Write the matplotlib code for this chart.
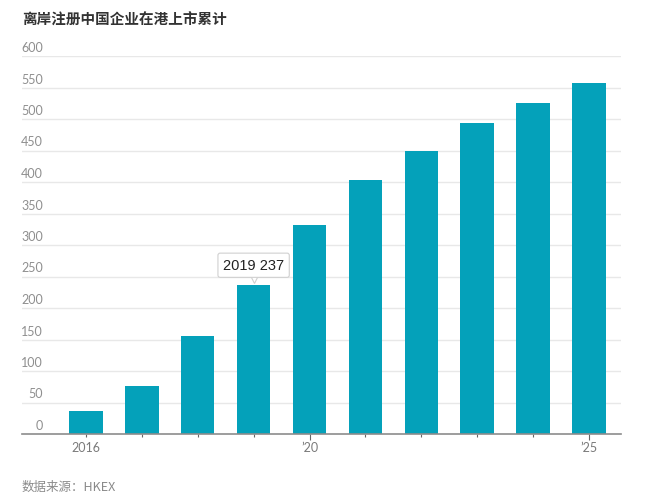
import matplotlib
matplotlib.use("Agg")
import matplotlib.pyplot as plt
import matplotlib.transforms as mtransforms

plt.rcParams['font.family'] = ['Lato', 'Noto Sans CJK SC', 'DejaVu Sans']

years = [2016, 2017, 2018, 2019, 2020, 2021, 2022, 2023, 2024, 2025]
values = [36, 76, 156, 237, 332, 403, 449, 494, 525, 557]
yticks = [0, 50, 100, 150, 200, 250, 300, 350, 400, 450, 500, 550, 600]
xtick_labels = {2016: "2016", 2020: "\u201920", 2025: "\u201925"}
title = "离岸注册中国企业在港上市累计"
source = "数据来源：HKEX"
highlight_year = 2019

W, H = 650, 502
fig = plt.figure(figsize=(W / 100, H / 100), dpi=100)
ax = fig.add_axes([22 / W, (H - 435) / H, (621 - 22) / W, (435 - 57) / H])

bar_color = '#04a1ba'
ax.bar(years, values, width=0.6, color=bar_color, zorder=2)

ax.set_ylim(0, 600)
ax.set_xlim(2016 - 64 / 56, 2025 + 32 / 56)

# gridlines
for v in yticks[1:]:
    ax.axhline(v, color='#e8e8e8', lw=1, zorder=1)

# y labels above gridlines, right aligned
ylab_trans = mtransforms.blended_transform_factory(ax.transAxes, ax.transData)
ylab_trans = mtransforms.offset_copy(ylab_trans, fig=fig, x=0, y=3, units='dots')
for v in yticks:
    ax.text((43 - 22) / (621 - 22), v, str(v), transform=ylab_trans,
            ha='right', va='bottom', fontsize=9, color='#8f8f8f', family=['Lato', 'DejaVu Sans'])

ax.set_yticks([])
for s in ['top', 'right', 'left']:
    ax.spines[s].set_visible(False)
ax.spines['bottom'].set_color('#8c8c8c')
ax.spines['bottom'].set_linewidth(1.2)
ax.spines['bottom'].set_zorder(3)

ax.set_xticks(years)
ax.set_xticklabels([xtick_labels.get(y, "") for y in years], fontsize=9, color='#7a7a7a')
ax.tick_params(axis='x', length=2.2, width=0.8, color='#666666', pad=3)
for tick, y in zip(ax.xaxis.get_major_ticks(), years):
    if y in (2020, 2025):
        tick.tick1line.set_markersize(4.5)

# tooltip
hv = values[years.index(highlight_year)]
ax.annotate(f"{highlight_year} {hv}", xy=(highlight_year, hv), xytext=(0, 14),
            textcoords='offset points', ha='center', va='center', fontsize=10.5,
            color='#222222', family=['Liberation Sans', 'DejaVu Sans'], zorder=6,
            bbox=dict(boxstyle='round,pad=0.35,rounding_size=0.15', fc='white',
                      ec='#d0d0d0', lw=0.8))
ptr_trans = mtransforms.offset_copy(ax.transData, fig=fig, x=0, y=7, units='dots')
ax.plot([highlight_year], [hv], marker='v', markersize=6.5, color='white',
        markeredgecolor='#d0d0d0', markeredgewidth=0.8, transform=ptr_trans, zorder=5,
        clip_on=False)

fig.text(22 / W, 1 - 20 / H, title, fontsize=10.5, fontweight='bold', color='#333333',
         ha='left', va='center', family=['Noto Sans CJK SC', 'DejaVu Sans'])
fig.text(22 / W, 1 - 487 / H, source, fontsize=9, color='#8a8a8a',
         ha='left', va='center', family=['Noto Sans CJK SC', 'DejaVu Sans'])

fig.savefig("out.png", dpi=100)
